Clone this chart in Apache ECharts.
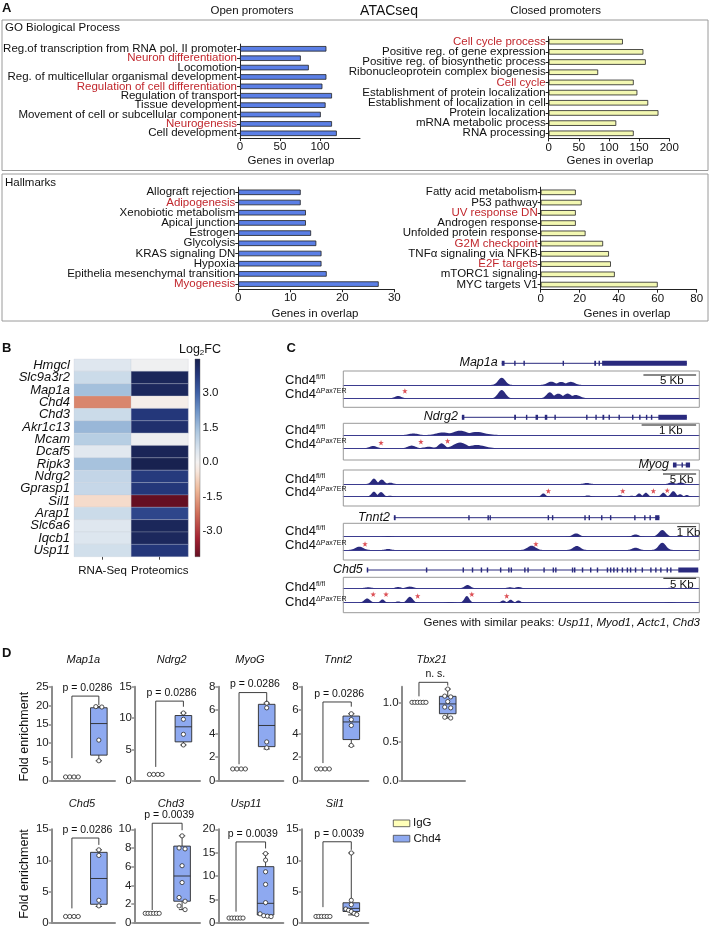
<!DOCTYPE html>
<html><head><meta charset="utf-8">
<script src="https://cdn.jsdelivr.net/npm/echarts@6/dist/echarts.min.js"></script>
<style>html,body{margin:0;padding:0;background:#fff}#c{width:711px;height:926px}</style>
</head><body><div id="c"></div><script>
// ================= DATA =================
// Panel A – GO Biological Process
const goOpenTerms = ['Reg.of transcription from RNA pol. II promoter','Neuron differentiation','Locomotion','Reg. of multicellular organismal development','Regulation of cell differentiation','Regulation of transport','Tissue development','Movement of cell or subcellular component','Neurogenesis','Cell development'];
const goOpenGenes = [108,76,86,108,103,115,107,101,115,121];
const goOpenRed = ['Neuron differentiation','Regulation of cell differentiation','Neurogenesis'];
const goClosedTerms = ['Cell cycle process','Positive reg. of gene expression','Positive reg. of biosynthetic process','Ribonucleoprotein complex biogenesis','Cell cycle','Establishment of protein localization','Establishment of localization in cell','Protein localization','mRNA metabolic process','RNA processing'];
const goClosedGenes = [123,157,161,82,141,147,165,182,112,141];
const goClosedRed = ['Cell cycle process','Cell cycle'];
// Panel A – Hallmarks
const hmOpenTerms = ['Allograft rejection','Adipogenesis','Xenobiotic metabolism','Apical junction','Estrogen','Glycolysis','KRAS signaling DN','Hypoxia','Epithelia mesenchymal transition','Myogenesis'];
const hmOpenGenes = [12,12,13,13,14,15,16,16,17,27];
const hmOpenRed = ['Adipogenesis','Myogenesis'];
const hmClosedTerms = ['Fatty acid metabolism','P53 pathway','UV response DN','Androgen response','Unfolded protein response','G2M checkpoint','TNFα signaling via NFKB','E2F targets','mTORC1 signaling','MYC targets V1'];
const hmClosedGenes = [18,21,18,18,23,32,35,36,38,60];
const hmClosedRed = ['UV response DN','G2M checkpoint','E2F targets'];

// Panel B – Log2FC heatmap
const heatGenes = ['Hmgcl','Slc9a3r2','Map1a','Chd4','Chd3','Akr1c13','Mcam','Dcaf5','Ripk3','Ndrg2','Gprasp1','Sil1','Arap1','Slc6a6','Iqcb1','Usp11'];
const heatCols = ['RNA-Seq','Proteomics'];
const rnaSeqFC = [0.45,0.8,1.45,-1.9,0.8,1.6,1.15,0.4,1.4,0.95,0.9,-0.6,0.8,0.45,0.5,0.7];
const proteomicsFC = [0.1,4.3,4.25,-0.15,3.8,4.0,0.15,4.35,4.45,3.75,3.8,-4.1,3.5,4.3,4.25,3.8];
const cbTicks = [-3,-1.5,0,1.5,3];
const cbMin = -4.1, cbMax = 4.47;

// Panel C – ATAC-seq tracks (x in % of the displayed window)
const cLoci = ['Map1a','Ndrg2','Myog','Tnnt2','Chd5'];
const cGeneSpan = [[44.5,96.5],[33.3,96.5],[92.6,97.4],[14.2,88.8],[6.6,99.7]];
const cExons = [
  [[44.5,45.3],[48.0,48.4],[50.6,51.0],[61.6,62.0],[70.5,71.0],[71.7,72.1],[72.7,96.5]],
  [[33.3,34.0],[48.0,48.5],[51.3,51.7],[54.0,54.7],[56.6,57.3],[59.3,59.7],[68.2,68.6],[70.8,71.2],[72.8,73.3],[74.5,74.9],[77.3,77.7],[81.1,81.5],[83.1,83.5],[85.0,85.4],[86.4,86.8],[88.5,96.5]],
  [[92.6,93.6],[95.0,95.4],[96.2,97.4]],
  [[14.2,14.7],[35.1,35.5],[40.5,40.9],[41.1,41.4],[57.4,57.8],[58.6,59.0],[67.7,68.1],[68.9,69.3],[72.4,72.8],[74.9,75.3],[81.7,82.1],[84.5,84.9],[86.0,86.4],[87.6,88.8]],
  [[6.6,7.0],[23.2,23.6],[33.5,33.9],[36.1,36.5],[38.6,39.0],[40.3,40.7],[44.0,44.4],[46.3,46.7],[47.0,47.4],[50.8,51.2],[51.7,52.1],[56.2,56.6],[58.8,59.2],[59.5,59.9],[64.2,64.6],[64.8,65.2],[67.0,67.4],[69.3,69.7],[71.2,71.6],[74.0,74.4],[74.9,75.3],[75.8,76.2],[76.8,77.2],[78.2,78.6],[79.6,80.0],[80.5,80.9],[81.9,82.3],[83.8,84.2],[86.2,86.6],[87.6,88.0],[89.0,89.4],[90.8,91.2],[91.8,92.2],[94.1,99.7]]
];
// peaks: [position, signal height, width]
const cPeaksFl = [
  [[44.5,7.3,1.0],[58.4,3.3,1.1],[61.2,3.0,1.1],[63.9,3.2,1.1]],
  [[19.7,1.5,1.2],[28.0,2.5,1.8],[32.8,4.3,2.0],[37.5,3.0,2.2]],
  [[8.6,5.5,0.7],[10.8,4.5,0.7],[13.2,1.3,0.7],[68.4,1.0,0.8],[92.2,1.5,0.7],[94.8,1.5,0.7]],
  [[12.6,0.7,0.8],[65.4,3.3,1.0],[82.1,2.3,0.9],[89.6,6.7,1.0]],
  [[7.0,1.0,1.0],[15.4,1.3,0.8],[18.7,1.7,1.0],[34.9,3.3,0.8],[46.8,1.0,0.8],[49.2,1.3,0.8],[91.8,0.5,0.8]]
];
const cPeaksKo = [
  [[15.4,2.3,0.9],[44.5,8.3,1.0],[58.0,6.0,0.9],[60.4,4.6,1.1],[63.0,4.7,1.1],[65.3,3.3,1.2]],
  [[8.4,2.3,1.0],[19.2,2.7,1.1],[24.0,1.5,1.3],[27.6,5.0,0.9],[32.8,5.7,1.8],[37.5,3.3,2.2]],
  [[8.6,5.0,0.7],[10.6,4.7,0.7],[13.1,1.0,0.7],[56.2,3.3,0.6],[68.7,1.3,0.8],[77.7,1.5,0.6],[81.0,1.0,0.6],[83.1,3.3,0.6],[85.0,4.0,0.6],[89.9,4.0,0.6],[92.7,5.5,0.7],[94.6,2.5,0.6],[96.5,1.7,0.6]],
  [[4.5,3.3,1.1],[12.6,1.0,0.8],[52.9,4.3,1.1],[65.6,4.0,1.0],[82.1,2.3,0.9],[89.6,7.3,1.0]],
  [[6.7,4.3,0.8],[11.0,3.3,0.6],[15.4,1.3,0.7],[18.7,6.0,0.8],[30.0,0.8,0.8],[34.7,6.7,0.7],[44.9,2.3,0.6],[47.0,3.0,0.6],[49.2,2.3,0.6],[91.8,0.5,0.8]]
];
const cStars = [
  [[17.3,7.3]],
  [[10.6,5.6],[21.8,6.6],[29.3,7.3]],
  [[57.6,5.7],[78.5,5.7],[87.1,5.7],[91.0,6.3]],
  [[6.1,6.0],[54.1,6.0]],
  [[8.4,8.4],[12.0,8.4],[20.9,6.7],[36.1,8.4],[45.9,6.7]]
];
const cScaleLabel = ['5 Kb','1 Kb','5 Kb','1 Kb','5 Kb'];
const cScaleBar = [[84.3,99.1],[83.8,99.1],[89.8,99.1],[93.8,99.1],[89.9,99.1]];
const cSimilar = ['Usp11','Myod1','Actc1','Chd3'];

// Panel D – ChIP-qPCR fold enrichment
const dGenes = ['Map1a','Ndrg2','MyoG','Tnnt2','Tbx21','Chd5','Chd3','Usp11','Sil1'];
const dIgG = [[1,1,1,1],[1,1,1,1],[1,1,1,1],[1,1,1,1],[1,1,1,1,1,1],[1,1,1,1],[1,1,1,1,1,1],[1,1,1,1,1,1],[1,1,1,1,1,1]];
const dChd4 = [
  [19.7,19.6,10.8,5.3],
  [10.8,9.8,7.4,5.7],
  [6.6,6.2,3.3,2.8],
  [5.7,5.2,4.7,3.0],
  [1.17,1.08,1.07,1.01,0.94,0.93,0.81,0.80],
  [11.7,10.8,3.6,2.7],
  [9.3,8.0,7.9,6.1,4.3,2.7,2.3,1.8,1.4],
  [14.8,13.4,10.9,8.2,4.3,1.9,1.5,1.4,1.3],
  [11.2,3.6,2.9,2.2,2.0,1.8,1.5,1.3]
];
// box: [min, q1, median, q3, max]
const dChd4Box = [
  [5.3,6.8,15.2,19.4,19.7],[5.7,6.2,8.6,10.4,10.8],[2.7,2.9,4.7,6.5,6.6],[2.95,3.5,5.0,5.5,5.7],
  [0.8,0.855,0.98,1.077,1.17],[2.6,2.96,7.1,11.3,11.7],[1.4,2.3,5.0,8.2,9.3],[1.3,1.65,4.15,12.0,14.8],[1.25,1.8,2.3,3.2,11.2]
];
const dPText = ['p = 0.0286','p = 0.0286','p = 0.0286','p = 0.0286','n. s.','p = 0.0286','p = 0.0039','p = 0.0039','p = 0.0039'];
// bracket: [top, left leg bottom, right leg bottom]
const dBracket = [[22.5,6.0,20.1],[12.7,2.2,11.8],[7.5,1.4,6.7],[6.7,1.5,6.3],[1.256,1.077,1.214],[13.6,2.3,12.5],[10.65,1.36,9.9],[17.3,2.36,15.9],[13.0,2.5,11.7]];
const dYMax = [25,15,8,8,1.2,15,10,20,15];
const dYInterval = [5,5,2,2,0.5,5,2,5,5];

// ================= LAYOUT / RENDER =================
const FONT = "'Liberation Sans', Arial, Helvetica, sans-serif";
const grids=[], xAxes=[], yAxes=[], series=[], graphics=[];
function addGrid(g,x,y){ grids.push(Object.assign({outerBoundsMode:'none', containLabel:false}, g)); const i=grids.length-1;
  xAxes.push(Object.assign({gridIndex:i}, x)); yAxes.push(Object.assign({gridIndex:i}, y)); return i; }
function T(x,y,text,o){ o=o||{}; const st=Object.assign({text, fill:o.color||'#111', font:(o.style||'')+' '+(o.size||11)+'px '+FONT,
  align:o.align||'left', verticalAlign:'middle', textAlign:o.align||'left', textVerticalAlign:'middle'}, o.extra||{});
  graphics.push({type:'text', x, y, rotation:o.rot||0, silent:true, z:10, style:st}); }
function R(x,y,w,h,fill,stroke,lw){ graphics.push({type:'rect', silent:true, z:1, shape:{x,y,width:w,height:h}, style:{fill:fill||'none', stroke:stroke||'none', lineWidth:lw||1}}); }
const hidden = {show:false};

// ---------- Panel A ----------
function barPanel(terms, vals, red, left, top, width, height, max, ticks, color){
  const gi = addGrid({left, top, width, height},
    {type:'value', min:0, max, splitLine:hidden,
     axisLine:{show:true, lineStyle:{color:'#222', width:1}},
     axisTick:{show:true, length:3, customValues:ticks, lineStyle:{color:'#222'}},
     axisLabel:{show:true, customValues:ticks, fontSize:11.5, color:'#111', fontFamily:FONT, margin:3}},
    {type:'category', data:terms, inverse:true,
     axisLine:{show:true, onZero:false, lineStyle:{color:'#222', width:1}},
     axisTick:{show:true, length:3, alignWithLabel:true, lineStyle:{color:'#222'}},
     axisLabel:{interval:0, fontSize:11.5, color:'#111', fontFamily:FONT, margin:3,
       formatter:v=> red.includes(v) ? '{r|'+v+'}' : v,
       rich:{r:{color:'#c1272d', fontSize:11.5, fontFamily:FONT}}}});
  series.push({type:'bar', xAxisIndex:gi, yAxisIndex:gi, data:vals, barWidth:5.5, silent:true,
    itemStyle:{color, borderColor:'#222', borderWidth:0.8}});
}
const BLUE='#5b7fe6', YEL='#f3f8b2';
barPanel(goOpenTerms, goOpenGenes, goOpenRed, 240, 44.1, 120, 93.9, 150, [0,50,100], BLUE);
barPanel(goClosedTerms, goClosedGenes, goClosedRed, 548.7, 36.6, 120.6, 101.8, 200, [0,50,100,150,200], YEL);
barPanel(hmOpenTerms, hmOpenGenes, hmOpenRed, 238.3, 187.2, 156, 102, 30, [0,10,20,30], BLUE);
barPanel(hmClosedTerms, hmClosedGenes, hmClosedRed, 540.7, 187.2, 156, 102.5, 80, [0,20,40,60,80], YEL);
R(2,20,706,150.5,'none','#9a9a9a',1);
R(2,174,706,147,'none','#9a9a9a',1);
T(2,8.5,'A',{size:13, style:'bold'});
T(252,11,'Open promoters',{size:11.5, align:'center'});
T(389,11.5,'ATACseq',{size:14, align:'center'});
T(555.7,11,'Closed promoters',{size:11.5, align:'center'});
T(5,28.3,'GO Biological Process',{size:11.5});
T(5,182.7,'Hallmarks',{size:11.5});
T(291,160.5,'Genes in overlap',{size:11.5, align:'center'});
T(610,160.5,'Genes in overlap',{size:11.5, align:'center'});
T(315,314,'Genes in overlap',{size:11.5, align:'center'});
T(627,314,'Genes in overlap',{size:11.5, align:'center'});

// ---------- Panel B ----------
const cbStops = [[-4.1,'#650f22'],[-3.3,'#a32232'],[-2.2,'#d0705a'],[-1.2,'#eeb898'],[-0.4,'#f7e6dc'],[0,'#f4f2f1'],[0.5,'#dde6ef'],[1.3,'#aec8e0'],[2.2,'#6f95c8'],[3.0,'#3e60a6'],[3.8,'#24377a'],[4.47,'#18214f']];
function hx(h){ return [parseInt(h.slice(1,3),16),parseInt(h.slice(3,5),16),parseInt(h.slice(5,7),16)]; }
function colorAt(v){
  if(v<=cbStops[0][0]) return cbStops[0][1];
  for(let i=1;i<cbStops.length;i++){ if(v<=cbStops[i][0]){ const a=cbStops[i-1], b=cbStops[i]; const t=(v-a[0])/(b[0]-a[0]);
    const ca=hx(a[1]), cb=hx(b[1]); return 'rgb('+ca.map((c,k)=>Math.round(c+(cb[k]-c)*t)).join(',')+')'; } }
  return cbStops[cbStops.length-1][1];
}
const gB = addGrid({left:74, top:359, width:114.3, height:197.7},
  {type:'category', data:heatCols, axisLine:hidden, axisTick:{show:true, length:3, alignWithLabel:true, lineStyle:{color:'#444'}},
   axisLabel:{interval:0, hideOverlap:false, fontSize:11.5, color:'#111', fontFamily:FONT, margin:8}},
  {type:'category', data:heatGenes, inverse:true, axisLine:hidden, axisTick:hidden,
   axisLabel:{interval:0, fontSize:13, fontStyle:'italic', color:'#111', fontFamily:FONT, margin:4}});
const heatData=[]; heatGenes.forEach((g,i)=>{ heatData.push([0,i,rnaSeqFC[i]]); heatData.push([1,i,proteomicsFC[i]]); });
series.push({type:'custom', xAxisIndex:gB, yAxisIndex:gB, data:heatData, silent:true,
  renderItem:(p,api)=>{ const c=api.coord([api.value(0),api.value(1)]); const s=api.size([1,1]);
    return {type:'rect', shape:{x:c[0]-s[0]/2, y:c[1]-s[1]/2, width:s[0], height:s[1]}, style:{fill:colorAt(api.value(2)), stroke:'rgba(200,205,215,0.5)', lineWidth:0.5}}; }});
const gCB = addGrid({left:195, top:359, width:5, height:197.7},
  {type:'value', min:0, max:1, show:false},
  {type:'value', min:cbMin, max:cbMax, position:'right', splitLine:hidden, axisLine:hidden,
   axisTick:{show:true, length:2.5, customValues:cbTicks, lineStyle:{color:'#333'}},
   axisLabel:{customValues:cbTicks, fontSize:11.5, color:'#111', fontFamily:FONT, margin:2.5, formatter:v=>v.toFixed(1)}});
series.push({type:'custom', xAxisIndex:gCB, yAxisIndex:gCB, data:[[0]], silent:true,
  renderItem:(p,api)=>{ const a=api.coord([0,cbMax]), b=api.coord([1,cbMin]);
    const stops=cbStops.map(s=>({offset:(cbMax-s[0])/(cbMax-cbMin), color:s[1]})).reverse();
    return {type:'rect', shape:{x:a[0], y:a[1], width:b[0]-a[0], height:b[1]-a[1]},
      style:{fill:new echarts.graphic.LinearGradient(0,0,0,1,stops), stroke:'#555', lineWidth:0.4}}; }});
T(2,348.3,'B',{size:13, style:'bold'});
T(200,350,'{a|Log}{s|2}{a|FC}',{align:'center', extra:{rich:{a:{fontSize:12.5, fontFamily:FONT, fill:'#111'}, s:{fontSize:8, fontFamily:FONT, fill:'#111', verticalAlign:'bottom'}}}});

// ---------- Panel C ----------
const cX0=343.3, cW=356;
const cGeneY=[363.3,417.3,465,517.7,570];
const cBase=[[385,398.3],[435,448.3],[484,496.7],[536.7,550],[588.3,602.7]];
const cBox=[[371,407.3],[423.3,460],[470,506],[523.3,560],[577.3,612.7]];
const cLab=[[380,394.3],[430,444.3],[479,492],[531.5,545.7],[587.3,602.3]];
const NAVY='#2a2a7e';
function peakRender(p,api){ const x=api.value(0), h=api.value(1), s=api.value(2); const pts=[];
  for(let t=-3;t<=3.001;t+=0.25) pts.push(api.coord([x+t*s, h*Math.exp(-t*t/2)]));
  return {type:'polygon', shape:{points:pts}, style:{fill:NAVY}}; }
cLoci.forEach((name,i)=>{
  const gg = addGrid({left:cX0, top:cGeneY[i]-5, width:cW, height:10},
    {type:'value', min:0, max:100, show:false}, {type:'value', min:-1, max:1, show:false});
  series.push({type:'custom', xAxisIndex:gg, yAxisIndex:gg, data:[cGeneSpan[i]], silent:true,
    renderItem:(p,api)=>{ const a=api.coord([api.value(0),0]), b=api.coord([api.value(1),0]);
      return {type:'group', children:[
        {type:'line', shape:{x1:a[0],y1:a[1],x2:b[0],y2:b[1]}, style:{stroke:NAVY, lineWidth:1}},
        {type:'text', style:{text:name, x:a[0]-4, y:a[1]-0.5, align:'right', verticalAlign:'middle', font:'italic 12.5px '+FONT, fill:'#111'}}]}; }});
  series.push({type:'custom', xAxisIndex:gg, yAxisIndex:gg, data:cExons[i], silent:true,
    renderItem:(p,api)=>{ const a=api.coord([api.value(0),0]), b=api.coord([api.value(1),0]);
      return {type:'rect', shape:{x:a[0], y:a[1]-2.5, width:Math.max(1.3,b[0]-a[0]), height:5}, style:{fill:NAVY}}; }});
  [0,1].forEach(k=>{
    const tg = addGrid({left:cX0, top:cBase[i][k]-12, width:cW, height:12},
      {type:'value', min:0, max:100, axisLine:{show:true, onZero:false, lineStyle:{color:'#3b3b8f', width:1}}, axisTick:hidden, axisLabel:hidden, splitLine:hidden},
      {type:'value', min:0, max:12, show:false});
    series.push({type:'custom', xAxisIndex:tg, yAxisIndex:tg, data:k===0?cPeaksFl[i]:cPeaksKo[i], silent:true, renderItem:peakRender});
    if(k===1) series.push({type:'scatter', xAxisIndex:tg, yAxisIndex:tg, data:cStars[i], silent:true, symbolSize:5.5,
      symbol:'path://M5,0 L6.2,3.4 L10,3.4 L7,5.6 L8.1,9.2 L5,7 L1.9,9.2 L3,5.6 L0,3.4 L3.8,3.4 Z', itemStyle:{color:'#d3242b'}});
    if(k===0) series.push({type:'custom', xAxisIndex:tg, yAxisIndex:tg, data:[cScaleBar[i]], silent:true,
      renderItem:(p,api)=>{ const a=api.coord([api.value(0),0]), b=api.coord([api.value(1),0]);
        return {type:'group', children:[
          {type:'line', shape:{x1:a[0],y1:a[1]-10,x2:b[0],y2:a[1]-10}, style:{stroke:'#111', lineWidth:1}},
          {type:'text', style:{text:cScaleLabel[i], x:(a[0]+b[0])/2+2, y:a[1]-3.8, align:'center', verticalAlign:'middle', font:'11.5px '+FONT, fill:'#111'}}]}; }});
  });
  R(cX0, cBox[i][0], cW, cBox[i][1]-cBox[i][0], 'none', '#999', 1);
  const lr = {a:{fontSize:13, fontFamily:FONT, fill:'#111'}, s:{fontSize:7, fontFamily:FONT, fill:'#111', verticalAlign:'top'}};
  T(285, cLab[i][0], '{a|Chd4}{s|fl/fl}', {extra:{rich:lr}});
  T(285, cLab[i][1], '{a|Chd4}{s|ΔPax7ER}', {extra:{rich:lr}});
});
T(286.5,348.3,'C',{size:13, style:'bold'});
T(700,622.7,'{n|Genes with similar peaks: }'+cSimilar.map(g=>'{i|'+g+'}').join('{n|, }'),
  {align:'right', extra:{rich:{n:{fontSize:11.5, fontFamily:FONT, fill:'#111'}, i:{fontSize:11.5, fontFamily:FONT, fontStyle:'italic', fill:'#111'}}}});

// ---------- Panel D ----------
const dLayout = [[51.7,686.7,63.3,94,-0.75],[135,686.7,65,94,-0.75],[218.3,686.7,65,94,-0.75],[301.7,686.7,66.6,94,-0.75],[401.7,686.7,63.3,94,-0.6],
                 [51.7,829.3,63.3,93.4,-0.75],[134.3,829.3,65.7,93.4,-0.6],[218.3,829.3,65,93.4,-0.6],[301.7,829.3,66.6,93.4,-0.75]];
const dTitlePos = [[83.3,660],[171.7,660],[250,660],[338,660],[431.7,660],[82,804],[171,804],[246,804],[335,804]];
const AX='#8c8c8c';
function offsets(vals, pxPerUnit, step, thr, span){
  const idx = vals.map((v,i)=>i).sort((a,b)=>vals[b]-vals[a]); const off = new Array(vals.length).fill(0);
  let cl=[idx[0]];
  const flush=()=>{ const m=cl.length; const st = m>1 ? Math.min(step, span/(m-1)) : 0; cl.forEach((j,q)=>{ off[j]=(q-(m-1)/2)*st; }); };
  for(let q=1;q<idx.length;q++){ if(Math.abs(vals[idx[q-1]]-vals[idx[q]])*pxPerUnit < thr) cl.push(idx[q]); else { flush(); cl=[idx[q]]; } }
  flush(); return off;
}
function boxRender(fill){ return (p,api)=>{ const x=api.value(0);
  const mn=api.coord([x,api.value(1)]), q1=api.coord([x,api.value(2)]), md=api.coord([x,api.value(3)]), q3=api.coord([x,api.value(4)]), mx=api.coord([x,api.value(5)]);
  const cx=mn[0], hw=8.3, cw=3.2, st={stroke:'#2a2a2a', lineWidth:0.9};
  return {type:'group', children:[
    {type:'line', shape:{x1:cx,y1:mx[1],x2:cx,y2:q3[1]}, style:st},
    {type:'line', shape:{x1:cx,y1:q1[1],x2:cx,y2:mn[1]}, style:st},
    {type:'line', shape:{x1:cx-cw,y1:mx[1],x2:cx+cw,y2:mx[1]}, style:st},
    {type:'line', shape:{x1:cx-cw,y1:mn[1],x2:cx+cw,y2:mn[1]}, style:st},
    {type:'rect', shape:{x:cx-hw,y:q3[1],width:2*hw,height:q1[1]-q3[1]}, style:{fill, stroke:'#2a2a2a', lineWidth:0.9}},
    {type:'line', shape:{x1:cx-hw,y1:md[1],x2:cx+hw,y2:md[1]}, style:st}]}; }; }
dGenes.forEach((g,i)=>{
  const L=dLayout[i]; const ymax=dYMax[i], iv=dYInterval[i];
  const ticks=[]; for(let v=0; v<=ymax+1e-9; v+=iv) ticks.push(+v.toFixed(3));
  const gi = addGrid({left:L[0], top:L[1], width:L[2], height:L[3]},
    {type:'value', min:L[4], max:1.6, splitLine:hidden, axisTick:hidden, axisLabel:hidden,
     axisLine:{show:true, onZero:false, lineStyle:{color:AX, width:2}}},
    {type:'value', min:0, max:ymax, splitLine:hidden,
     axisLine:{show:true, onZero:false, lineStyle:{color:AX, width:2}},
     axisTick:{show:true, length:3, customValues:ticks, lineStyle:{color:AX, width:1.5}},
     axisLabel:{customValues:ticks, fontSize:11.5, color:'#222', fontFamily:FONT, margin:3, formatter:v=> iv<1 ? v.toFixed(1) : String(v)}});
  const ppu = L[3]/ymax;
  series.push({type:'custom', xAxisIndex:gi, yAxisIndex:gi, data:[[0,1,1,1,1,1]], silent:true, renderItem:boxRender('#ffffb8')});
  const b=dChd4Box[i];
  series.push({type:'custom', xAxisIndex:gi, yAxisIndex:gi, data:[[1,b[0],b[1],b[2],b[3],b[4]]], silent:true, renderItem:boxRender('#8ea9f0')});
  const offI=offsets(dIgG[i], ppu, 4.2, 4.5, 14), offC=offsets(dChd4[i], ppu, 6, 4.2, 11);
  const pts = dIgG[i].map((v,j)=>[0,v,offI[j]]).concat(dChd4[i].map((v,j)=>[1,v,offC[j]]));
  series.push({type:'custom', xAxisIndex:gi, yAxisIndex:gi, data:pts, silent:true,
    renderItem:(p,api)=>{ const c=api.coord([api.value(0),api.value(1)]);
      return {type:'circle', shape:{cx:c[0]+api.value(2), cy:c[1], r:2.1}, style:{fill:'#fff', stroke:'#2a2a2a', lineWidth:0.8}}; }});
  const br=dBracket[i];
  series.push({type:'custom', xAxisIndex:gi, yAxisIndex:gi, data:[[0,1,br[0],br[1],br[2]]], silent:true, clip:false,
    renderItem:(p,api)=>{ const a=api.coord([0,api.value(3)]), t1=api.coord([0,api.value(2)]), t2=api.coord([1,api.value(2)]), c=api.coord([1,api.value(4)]);
      return {type:'group', children:[
        {type:'polyline', shape:{points:[a,t1,t2,c]}, style:{stroke:'#2a2a2a', lineWidth:0.9, fill:null}},
        {type:'text', style:{text:dPText[i], x:(t1[0]+t2[0])/2+2, y:t1[1]-8, align:'center', verticalAlign:'middle', font:'10.5px '+FONT, fill:'#111'}}]}; }});
  T(dTitlePos[i][0], dTitlePos[i][1], g, {size:11, style:'italic', align:'center'});
});
T(2,653.3,'D',{size:13, style:'bold'});
T(24.3,736.7,'Fold enrichment',{size:12.5, align:'center', rot:Math.PI/2});
T(24.3,874,'Fold enrichment',{size:12.5, align:'center', rot:Math.PI/2});
R(393.3,820,16.5,6.7,'#ffffb8','#444',0.8); T(413,823.3,'IgG',{size:11.5});
R(393.3,835.3,16.5,6.7,'#8ea9f0','#444',0.8); T(413.5,838.7,'Chd4',{size:11.5});

const chart = echarts.init(document.getElementById('c'), null, {renderer:'canvas', width:711, height:926});
chart.setOption({animation:false, backgroundColor:'#fff', textStyle:{fontFamily:FONT},
  grid:grids, xAxis:xAxes, yAxis:yAxes, series, graphic:graphics});
</script></body></html>
